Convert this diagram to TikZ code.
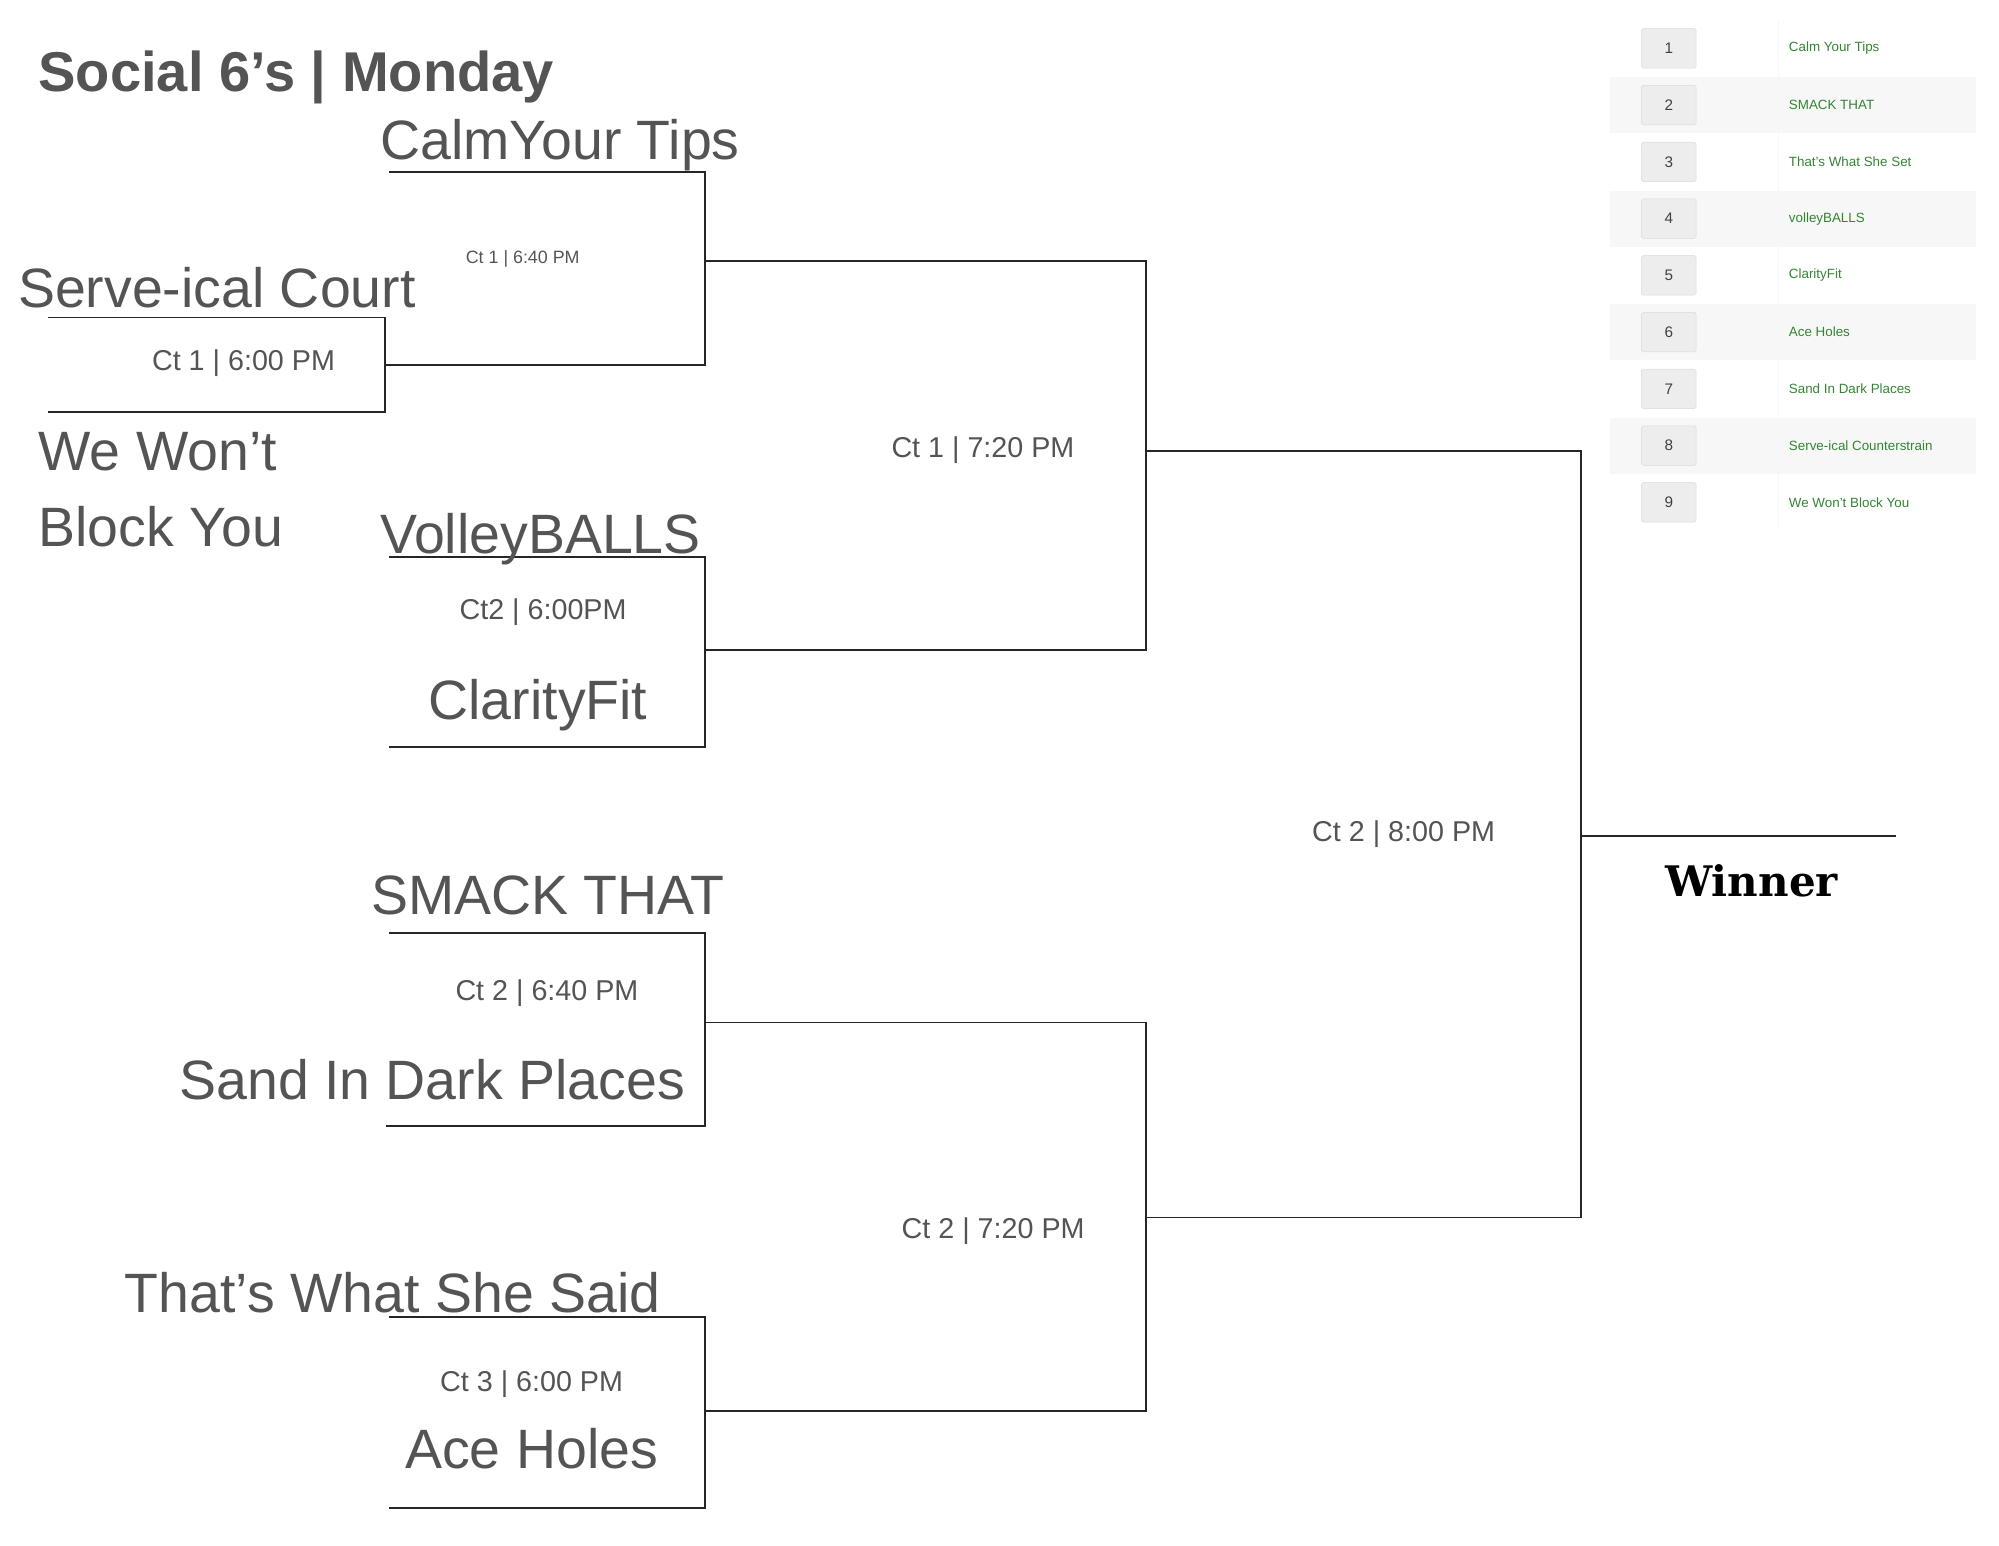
\documentclass[tikz,border=0pt]{standalone}
\usepackage{fontspec}
\setmainfont{Liberation Sans}
\newfontfamily\slabfont{DejaVu Serif}
\begin{document}
\begin{tikzpicture}[x=1pt,y=-1pt,
  br/.style={line width=1.4pt,black!85},
  team/.style={text=black!67,font=\fontsize{43.5}{45}\selectfont,inner sep=0pt},
  ct/.style={text=black!67,font=\fontsize{22.5}{24}\selectfont,inner sep=0pt},
  seed/.style={text=green!40!black!80,font=\fontsize{10.5}{12}\selectfont,anchor=west,inner sep=0pt},
  num/.style={draw=black!15,fill=black!7,rounded corners=1.5pt,minimum width=43pt,minimum height=31pt,font=\fontsize{12}{14}\selectfont,text=black!75}]
\useasboundingbox (0,0) rectangle (1568,1212);
% title
\node[anchor=base west,inner sep=0pt,text=black!67,font=\fontsize{44}{46}\selectfont\bfseries] (title) at (30,72) {Social 6’s | Monday};
% seed table
\foreach \i in {2,4,6,8} \fill[black!3] (1263,{38+44.5*(\i-1)-22}) rectangle (1550,{38+44.5*(\i-1)+22});
\draw[black!3,line width=1pt] (1395,16) -- (1395,416);
\foreach \i/\t in {1/Calm Your Tips,2/SMACK THAT,3/That’s What She Set,4/volleyBALLS,5/ClarityFit,6/Ace Holes,7/Sand In Dark Places,8/Serve-ical Counterstrain,9/We Won’t Block You}{
  \node[num] (n\i) at (1309,{38+44.5*(\i-1)}) {\i};
  \node[seed] (s\i) at (1403,{38+44.5*(\i-1)}) {\t};
}
% brackets round 1 / first games
\draw[br] (305,135) -- (553,135) -- (553,286) -- (302,286);
\draw[br] (38,249) -- (302,249) -- (302,323) -- (38,323);
\draw[br] (305,437) -- (553,437) -- (553,586) -- (305,586);
\draw[br] (305,732) -- (553,732) -- (553,883) -- (303,883);
\draw[br] (305,1033) -- (553,1033) -- (553,1183) -- (305,1183);
% round 2
\draw[br] (553,205) -- (899,205) -- (899,510) -- (553,510);
\draw[br] (553,802) -- (899,802) -- (899,1107) -- (553,1107);
% final
\draw[br] (899,354) -- (1240,354) -- (1240,955) -- (899,955);
\coordinate (w1) at (1240,656); \coordinate (w2) at (1487,656);
\draw[br] (w1) -- (w2);
% texts
\node[team,anchor=base west] (t1) at (298,125) {CalmYour Tips};
\node[ct,font=\fontsize{14}{16}\selectfont] (c1) at (410,203) {Ct 1 | 6:40 PM};
\node[team,anchor=base west] (t2) at (14,241) {Serve-ical Court};
\node[ct] (c2) at (191,285) {Ct 1 | 6:00 PM};
\node[team,anchor=base west] (t3) at (30,369) {We Won’t};
\node[team,anchor=base west] (t4) at (30,429) {Block You};
\node[team,anchor=base west] (t5) at (298,434) {VolleyBALLS};
\node[ct] (c3) at (426,480) {Ct2 | 6:00PM};
\node[team] (t6) at (422,553) {ClarityFit};
\node[ct] (c4) at (771,353) {Ct 1 | 7:20 PM};
\node[ct] (c5) at (1101,654) {Ct 2 | 8:00 PM};
\node[inner sep=0pt,font=\slabfont\fontsize{33}{35}\selectfont\bfseries,text=black] (win) at (1374,691) {Winner};
\node[team,anchor=base west] (t7) at (291,717) {SMACK THAT};
\node[ct] (c6) at (429,779) {Ct 2 | 6:40 PM};
\node[team] (t8) at (339,847) {Sand In Dark Places};
\node[ct] (c7) at (779,966) {Ct 2 | 7:20 PM};
\node[team] (t9) at (308,1014) {That’s What She Said};
\node[ct] (c8) at (417,1086) {Ct 3 | 6:00 PM};
\node[team] (t10) at (417,1136) {Ace Holes};
\end{tikzpicture}
\end{document}
